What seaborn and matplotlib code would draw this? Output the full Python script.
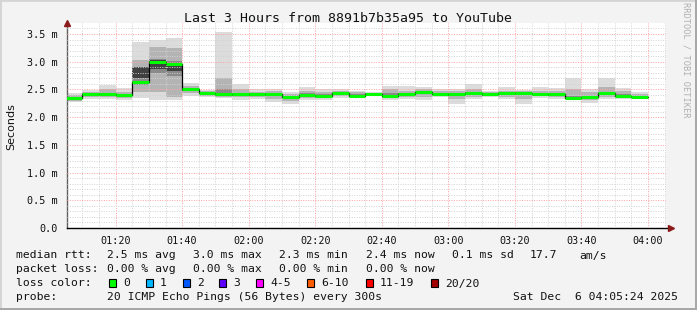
import matplotlib
matplotlib.use("Agg")
import matplotlib.pyplot as plt
from matplotlib.patches import Rectangle
from matplotlib.ticker import MultipleLocator, FuncFormatter
import seaborn as sns
import pandas as pd
import numpy as np

# ---------------- data ----------------
title = "Last 3 Hours from 8891b7b35a95 to YouTube"
# 5-minute bins, start minute of day (01:05 ... 03:55)
bin_start = [65, 70, 75, 80, 85, 90, 95, 100, 105, 110, 115, 120, 125, 130, 135, 140, 145,
             150, 155, 160, 165, 170, 175, 180, 185, 190, 195, 200, 205, 210, 215, 220, 225, 230, 235]
median_ms = [2.34, 2.41, 2.41, 2.40, 2.63, 2.99, 2.95, 2.50, 2.43, 2.41, 2.41, 2.41, 2.41, 2.37, 2.40, 2.38, 2.43,
             2.39, 2.42, 2.39, 2.42, 2.45, 2.42, 2.41, 2.44, 2.41, 2.43, 2.43, 2.42, 2.41, 2.35, 2.37, 2.43, 2.39, 2.37]
ping_max = [2.44, 2.49, 2.58, 2.52, 3.36, 3.39, 3.43, 2.61, 2.49, 3.54, 2.60, 2.50, 2.51, 2.45, 2.55, 2.50, 2.50,
            2.47, 2.45, 2.56, 2.57, 2.54, 2.50, 2.50, 2.59, 2.47, 2.54, 2.49, 2.54, 2.52, 2.70, 2.50, 2.70, 2.52, 2.45]
ping_min = [2.27, 2.33, 2.33, 2.31, 2.34, 2.31, 2.31, 2.38, 2.37, 2.34, 2.31, 2.33, 2.27, 2.23, 2.31, 2.31, 2.35,
            2.35, 2.38, 2.31, 2.33, 2.31, 2.36, 2.24, 2.33, 2.36, 2.33, 2.23, 2.35, 2.33, 2.33, 2.26, 2.33, 2.33, 2.33]
p90 = [2.40, 2.45, 2.50, 2.46, 3.03, 3.27, 3.24, 2.56, 2.47, 2.70, 2.50, 2.46, 2.47, 2.42, 2.48, 2.45, 2.47,
       2.45, 2.44, 2.50, 2.48, 2.50, 2.47, 2.47, 2.50, 2.45, 2.48, 2.47, 2.48, 2.47, 2.50, 2.46, 2.55, 2.47, 2.42]
p10 = [2.30, 2.36, 2.36, 2.35, 2.45, 2.45, 2.36, 2.44, 2.39, 2.37, 2.36, 2.36, 2.32, 2.30, 2.35, 2.34, 2.38,
       2.37, 2.40, 2.35, 2.37, 2.36, 2.39, 2.32, 2.37, 2.38, 2.37, 2.33, 2.38, 2.36, 2.34, 2.31, 2.37, 2.36, 2.35]
p75 = [2.36, 2.43, 2.44, 2.42, 2.91, 3.05, 3.02, 2.53, 2.45, 2.50, 2.44, 2.43, 2.43, 2.39, 2.43, 2.41, 2.45,
       2.42, 2.43, 2.43, 2.44, 2.47, 2.44, 2.43, 2.46, 2.43, 2.45, 2.45, 2.44, 2.43, 2.38, 2.39, 2.46, 2.41, 2.39]
p25 = [2.32, 2.39, 2.39, 2.38, 2.58, 2.80, 2.75, 2.47, 2.41, 2.39, 2.39, 2.39, 2.38, 2.34, 2.38, 2.36, 2.41,
       2.38, 2.41, 2.37, 2.40, 2.42, 2.40, 2.38, 2.41, 2.39, 2.41, 2.40, 2.40, 2.39, 2.34, 2.34, 2.40, 2.37, 2.35]
core_hi = [2.35, 2.42, 2.42, 2.41, 2.90, 3.03, 2.97, 2.51, 2.44, 2.44, 2.42, 2.42, 2.42, 2.38, 2.41, 2.39, 2.44,
           2.40, 2.43, 2.40, 2.43, 2.46, 2.43, 2.42, 2.45, 2.42, 2.44, 2.44, 2.43, 2.42, 2.36, 2.38, 2.44, 2.40, 2.38]
core_lo = [2.32, 2.39, 2.39, 2.38, 2.70, 2.86, 2.84, 2.48, 2.41, 2.40, 2.39, 2.39, 2.39, 2.35, 2.38, 2.36, 2.41,
           2.37, 2.40, 2.37, 2.40, 2.43, 2.40, 2.39, 2.42, 2.39, 2.41, 2.41, 2.40, 2.39, 2.33, 2.35, 2.41, 2.37, 2.35]
bin_width = 5
t_start, t_end = 65.4, 245.4  # 01:05:24 .. 04:05:24

legend_rows = [
    ("median rtt:", ["2.5 ms avg", "3.0 ms max", "2.3 ms min", "2.4 ms now", "0.1 ms sd", "17.7", "am/s"]),
    ("packet loss:", ["0.00 % avg", "0.00 % max", "0.00 % min", "0.00 % now"]),
]
loss_labels = ["0", "1", "2", "3", "4-5", "6-10", "11-19", "20/20"]
loss_colors = ["#00ff00", "#00b8ff", "#0059ff", "#5e00ff", "#ff00ff", "#ff5e00", "#ff0000", "#a10000"]
probe_text = "20 ICMP Echo Pings (56 Bytes) every 300s"
date_text = "Sat Dec  6 04:05:24 2025"

# ---------------- style ----------------
sns.set_theme(style="white")
plt.rcParams["font.family"] = ["DejaVu Sans Mono", "DejaVu Sans"]

W, H = 697, 310
fig = plt.figure(figsize=(W / 100, H / 100), dpi=100, facecolor="#f3f3f3")

def fx(x):
    return x / W

def fy(y):
    return 1 - y / H

ax_l, ax_r, ax_t, ax_b = 67, 666, 23, 228
ax = fig.add_axes([fx(ax_l), fy(ax_b), (ax_r - ax_l) / W, (ax_b - ax_t) / H])
ax.set_facecolor("#ffffff")

df = pd.DataFrame({"t": bin_start, "median": median_ms, "lo": ping_min, "hi": ping_max,
                   "p10": p10, "p90": p90, "p25": p25, "p75": p75,
                   "c_lo": core_lo, "c_hi": core_hi})

# smoke layers
layers = [("lo", "hi", "#dcdcdc"), ("p10", "p90", "#b4b4b4"), ("p25", "p75", "#8a8a8a"),
          ("c_lo", "c_hi", "#404040")]
for lo, hi, col in layers:
    ax.bar(df["t"], df[hi] - df[lo], bottom=df[lo], width=bin_width, align="edge",
           color=col, linewidth=0, zorder=1)

# step connectors (black) via seaborn
step_df = pd.concat([df[["t", "median"]],
                     pd.DataFrame({"t": [bin_start[-1] + bin_width], "median": [median_ms[-1]]})],
                    ignore_index=True)
sns.lineplot(data=step_df, x="t", y="median", drawstyle="steps-post", color="black",
             linewidth=0.9, ax=ax, zorder=3, legend=False)
# green median segments
ax.hlines(df["median"], df["t"], df["t"] + bin_width, colors="#00ff00", linewidth=2.2, zorder=4)

ax.set_xlim(t_start, t_end)
ax.set_ylim(0, (ax_b - ax_t) / 55.43)

# grid
ax.xaxis.set_major_locator(MultipleLocator(20))
ax.xaxis.set_minor_locator(MultipleLocator(5))
ax.yaxis.set_major_locator(MultipleLocator(0.5))
ax.yaxis.set_minor_locator(MultipleLocator(0.1))
ax.grid(which="minor", color="#d2d2d2", linestyle=(0, (1, 1.5)), linewidth=0.7)
ax.grid(which="major", color="#ffa0a0", linestyle=(0, (1, 1.5)), linewidth=0.7)
ax.set_axisbelow(False)
for gl in ax.get_xgridlines() + ax.get_ygridlines():
    gl.set_zorder(2)

def tfmt(v, pos):
    v = int(round(v))
    return f"{v // 60:02d}:{v % 60:02d}"

def yfmt(v, pos):
    return "0.0" if abs(v) < 1e-9 else f"{v:.1f} m"

ax.xaxis.set_major_formatter(FuncFormatter(tfmt))
ax.yaxis.set_major_formatter(FuncFormatter(yfmt))
ax.tick_params(axis="x", which="major", length=3, color="#ff6060", labelsize=7.3, pad=3, direction="out")
ax.tick_params(axis="x", which="minor", length=2, color="#b0b0b0", direction="out")
ax.tick_params(axis="y", which="major", length=3, color="#404040", labelsize=7.3, pad=5, direction="inout")
ax.tick_params(axis="y", which="minor", length=2, color="#909090", direction="inout")
ax.tick_params(axis="both", labelcolor="#111111")

for s in ["top", "right"]:
    ax.spines[s].set_visible(False)
ax.spines["left"].set_color("#606060")
ax.spines["left"].set_linewidth(1.0)
ax.spines["bottom"].set_color("#000000")
ax.spines["bottom"].set_linewidth(1.0)
ax.spines["bottom"].set_bounds(t_start, t_end + 1)

# axis arrows
ax.plot([0], [1.0], marker="^", color="#8b1a1a", markersize=5, transform=ax.transAxes, clip_on=False, zorder=6)
ax.plot([1.008], [0], marker=">", color="#8b1a1a", markersize=5, transform=ax.transAxes, clip_on=False, zorder=6)

ax.set_xlabel("")
ax.set_ylabel("")

# title and side labels
fig.text(fx(348), fy(19), title, ha="center", va="center", fontsize=9.5, color="#111111")
fig.text(fx(11), fy(127), "Seconds", rotation=90, ha="center", va="center", fontsize=8,
         family="DejaVu Sans", color="#111111")
fig.text(fx(686), fy(60), "RRDTOOL / TOBI OETIKER", rotation=-90, ha="center", va="center",
         fontsize=6.2, color="#b0b0b0")

# legend area (baseline aligned)
fs = 8.2
row_y = [254.5, 268.5, 282.5, 296.5]
bl = 4.0
col_x = [107, 193, 279, 366, 452, 530, 579]
for (label, items), yy in zip(legend_rows, row_y[:2]):
    fig.text(fx(16), fy(yy + bl), label, ha="left", va="baseline", fontsize=fs, color="#111111")
    for it, xx in zip(items, col_x):
        fig.text(fx(xx), fy(yy + bl), it, ha="left", va="baseline", fontsize=fs, color="#111111")

fig.text(fx(16), fy(row_y[2] + bl), "loss color:", ha="left", va="baseline", fontsize=fs, color="#111111")
sq_x = [109, 146, 183, 219, 256, 307, 366, 431]
for lab, col, sx in zip(loss_labels, loss_colors, sq_x):
    fig.patches.append(Rectangle((fx(sx), fy(row_y[2] + 4)), 7 / W, 8 / H, transform=fig.transFigure,
                                 facecolor=col, edgecolor="black", linewidth=0.8))
    fig.text(fx(sx + 14), fy(row_y[2] + bl), lab, ha="left", va="baseline", fontsize=fs, color="#111111")

fig.text(fx(16), fy(row_y[3] + bl), "probe:", ha="left", va="baseline", fontsize=fs, color="#111111")
fig.text(fx(107), fy(row_y[3] + bl), probe_text, ha="left", va="baseline", fontsize=fs, color="#111111")
fig.text(fx(513), fy(row_y[3] + bl), date_text, ha="left", va="baseline", fontsize=fs, color="#111111")

# image frame
fig.patches.append(Rectangle((0, 0), 1, 1, transform=fig.transFigure, fill=False,
                             edgecolor="#d4d4d4", linewidth=2))
fig.patches.append(Rectangle((0, 0), 1, 2 / H, transform=fig.transFigure, facecolor="#a8a8a8", edgecolor="none"))
fig.patches.append(Rectangle((1 - 2 / W, 0), 2 / W, 1, transform=fig.transFigure, facecolor="#a8a8a8", edgecolor="none"))

fig.savefig("out.png", dpi=100, facecolor=fig.get_facecolor())
